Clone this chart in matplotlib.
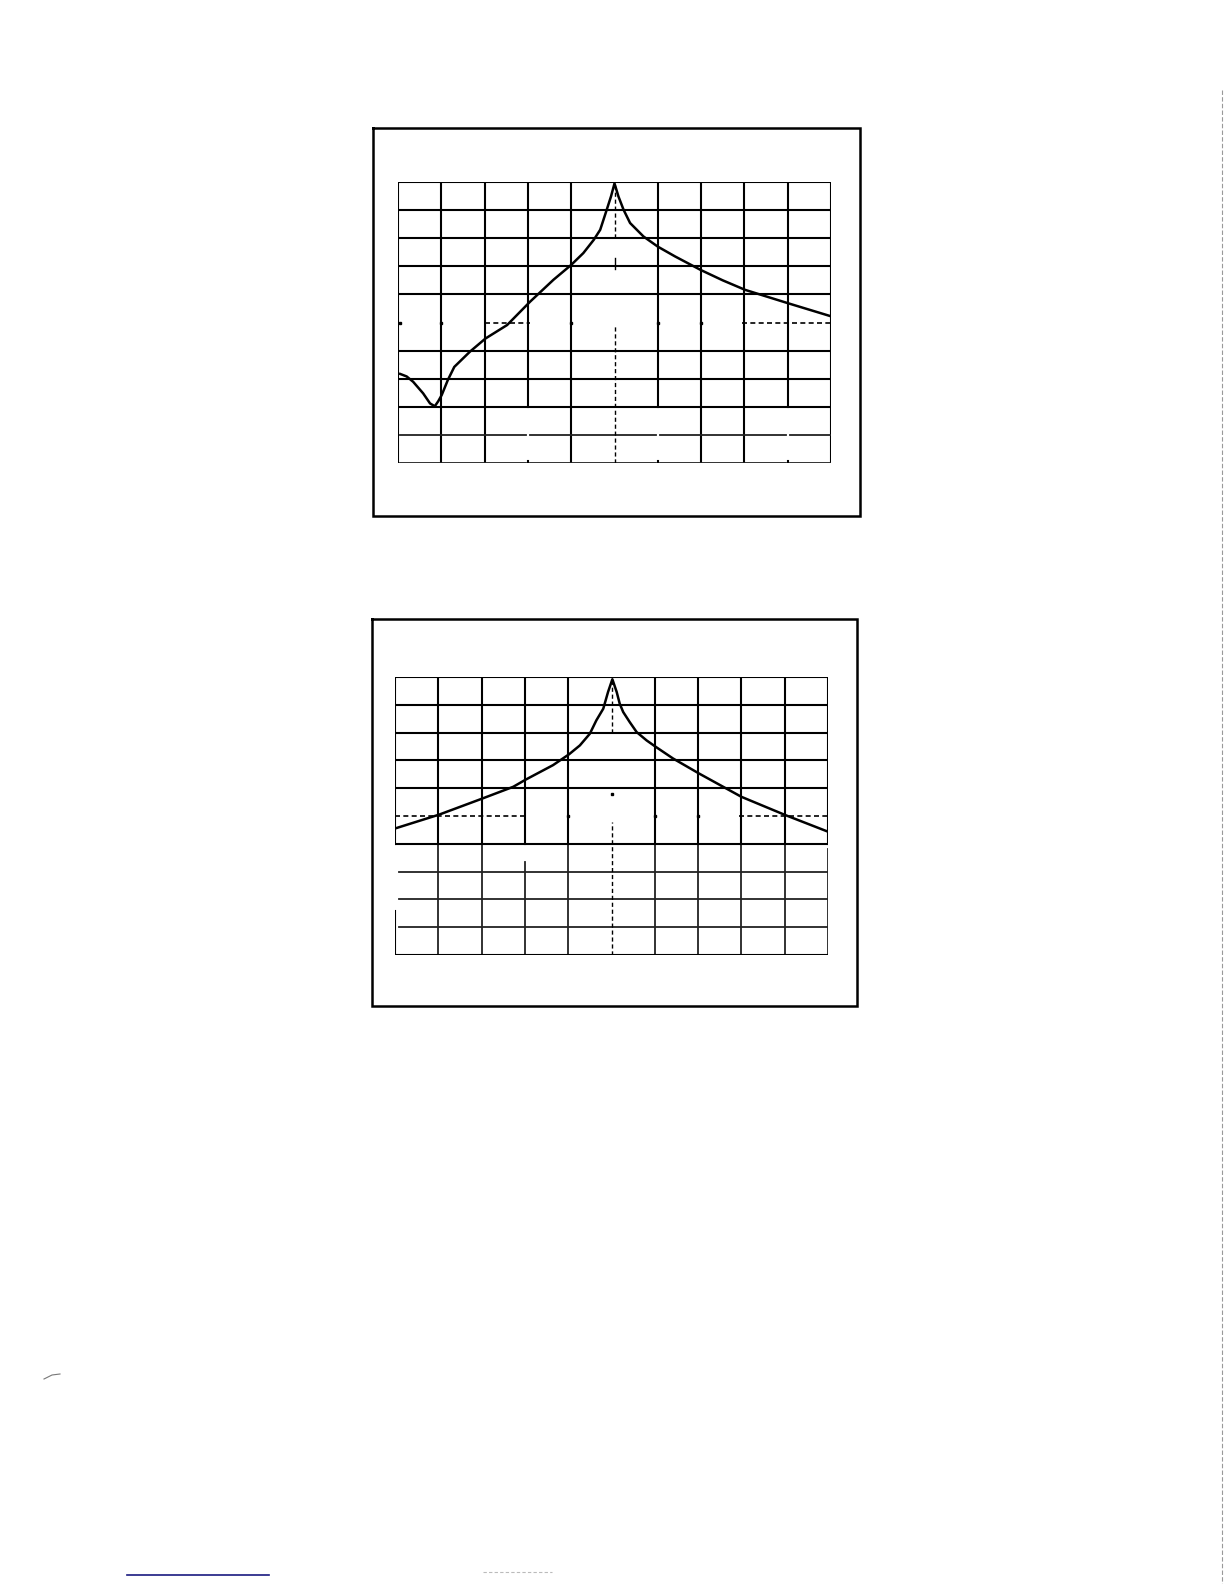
import matplotlib
matplotlib.use("Agg")
import matplotlib.pyplot as plt

# trace of the upper screen (grid units: 10 x 10 divisions)
top_x = [0.05, 0.2, 0.35, 0.58, 0.74, 0.85, 0.93, 1.01, 1.15, 1.3, 1.66, 2.02,
         2.52, 3.05, 3.59, 4.0, 4.28, 4.52, 4.67, 4.82, 4.92, 5.0, 5.09, 5.21,
         5.36, 5.67, 6.0, 6.4, 6.99, 7.5, 8.02, 9.02, 9.98]
top_y = [3.17, 3.08, 2.89, 2.48, 2.12, 2.02, 2.2, 2.42, 2.95, 3.42, 3.96, 4.43,
         4.91, 5.74, 6.52, 7.05, 7.47, 7.94, 8.3, 9.01, 9.49, 9.95, 9.49, 9.01,
         8.54, 8.06, 7.7, 7.35, 6.87, 6.5, 6.16, 5.68, 5.23]

# trace of the lower screen
bot_x = [0.04, 1.02, 2.02, 2.73, 3.02, 3.65, 4.02, 4.27, 4.5, 4.65, 4.81, 4.92,
         5.02, 5.12, 5.19, 5.27, 5.42, 5.58, 5.81, 6.02, 6.42, 7.02, 7.58, 8.0,
         9.02, 9.96]
bot_y = [4.57, 5.05, 5.63, 6.05, 6.31, 6.83, 7.22, 7.54, 7.96, 8.44, 8.86, 9.46,
         9.92, 9.46, 9.04, 8.74, 8.38, 8.02, 7.72, 7.49, 7.07, 6.53, 6.05, 5.69,
         5.03, 4.46]

W, H = 1224, 1584
fig = plt.figure(figsize=(W / 100, H / 100), dpi=100)

# page layer in pixel coordinates
page = fig.add_axes([0, 0, 1, 1])
page.set_xlim(0, W)
page.set_ylim(H, 0)
page.axis('off')


def frame(x0, y0, x1, y1):
    page.plot([x0, x1, x1, x0, x0], [y0, y0, y1, y1, y0], color='black', lw=1.8,
              solid_joinstyle='miter')


frame(373, 128, 860, 516)
frame(372, 619, 857, 1006)

# scan leftovers on the page
page.plot([127, 269], [1575, 1575], color='#1a1a80', lw=1.2)
page.plot([483, 552], [1572, 1572], color='#bbbbbb', lw=0.8, ls=(0, (3, 2)))
page.plot([44, 52, 60], [1379, 1375, 1374], color='#777777', lw=0.8)
page.plot([1222, 1222], [90, H], color='#999999', lw=0.8, ls=(0, (4, 2)))


def grid_axes(x0, y0, x1, y1):
    ax = fig.add_axes([x0 / W, 1 - y1 / H, (x1 - x0) / W, (y1 - y0) / H])
    ax.set_xlim(0, 10)
    ax.set_ylim(0, 10)
    ax.axis('off')
    return ax


GL = 1.5
DASH = (0, (3, 2))

# ---- upper screen ----
ax = grid_axes(398, 182, 831, 463)
for c in range(11):
    if c == 5:
        continue
    lo = 0 if c not in (3, 6, 9) else 2
    ax.plot([c, c], [lo, 10], color='black', lw=GL)
for c in (3, 6, 9):
    ax.plot([c, c], [0, 0.08], color='black', lw=GL)
for r in range(2, 11):
    if r == 5:
        continue
    ax.plot([0, 10], [r, r], color='black', lw=GL)
for r in (0, 1):
    for a, b in [(0.05, 2.95), (3.05, 5.95), (6.05, 8.95), (9.05, 9.97)]:
        ax.plot([a, b], [r, r], color='#222222', lw=1.3)
# centre reference lines
ax.plot([5, 5], [8.0, 10], color='black', lw=1.0, ls=DASH)
ax.plot([5, 5], [0, 4.9], color='black', lw=1.0, ls=DASH)
ax.plot([5, 5], [6.9, 7.3], color='black', lw=1.0)
ax.plot([2, 3.05], [5, 5], color='black', lw=1.2, ls=DASH)
ax.plot([7.95, 10], [5, 5], color='black', lw=1.2, ls=DASH)
ax.plot([0.05, 1, 4, 6, 7], [5, 5, 5, 5, 5], ls='none', marker='s',
        ms=2, color='black')
ax.plot(top_x, top_y, color='black', lw=1.8)

# ---- lower screen ----
ax = grid_axes(395, 677, 828, 955)
for c in range(11):
    if c == 5:
        continue
    ax.plot([c, c], [4, 10], color='black', lw=GL)
    if c == 0:
        ax.plot([c, c], [0, 1.6], color='black', lw=GL)
    elif c == 3:
        ax.plot([c, c], [0, 3.35], color='#222222', lw=1.3)
    elif c == 10:
        ax.plot([c, c], [0, 3.8], color='#222222', lw=1.3)
    else:
        ax.plot([c, c], [0, 4], color='#222222', lw=1.3)
for r in range(4, 11):
    if r == 5:
        continue
    ax.plot([0, 10], [r, r], color='black', lw=GL)
for r in (1, 2, 3):
    ax.plot([0.1, 10], [r, r], color='#222222', lw=1.3)
ax.plot([0, 10], [0, 0], color='black', lw=GL)
ax.plot([5, 5], [8.0, 10], color='black', lw=1.0, ls=DASH)
ax.plot([5, 5], [0, 4.8], color='black', lw=1.0, ls=DASH)
ax.plot([0, 3.05], [5, 5], color='black', lw=1.2, ls=DASH)
ax.plot([7.95, 10], [5, 5], color='black', lw=1.2, ls=DASH)
ax.plot([4, 5, 6, 7], [5, 5.8, 5, 5], ls='none', marker='s', ms=2, color='black')
ax.plot(bot_x, bot_y, color='black', lw=1.8)

fig.savefig('out.png', dpi=100, facecolor='white')
